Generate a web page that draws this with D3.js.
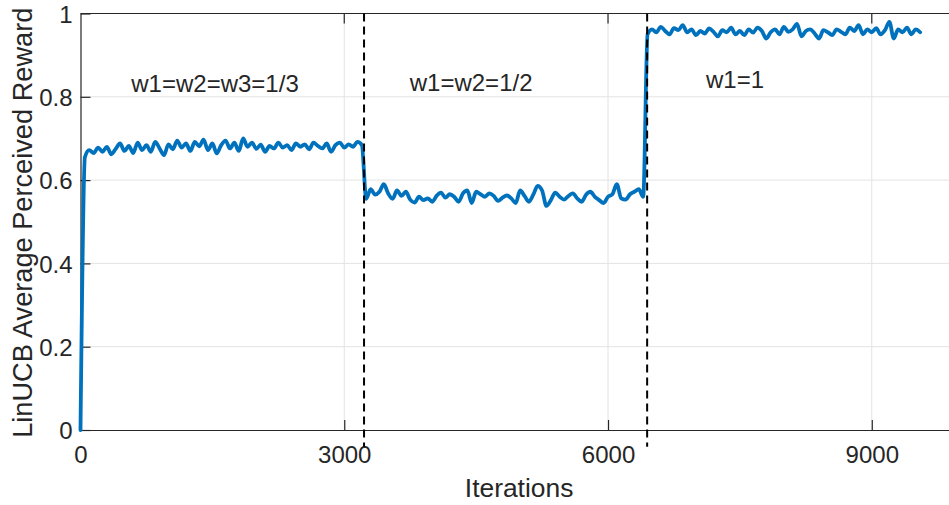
<!DOCTYPE html>
<html>
<head>
<meta charset="utf-8">
<script src="https://cdn.jsdelivr.net/npm/d3@7"></script>
<style>
  html, body { margin: 0; padding: 0; background: #fff; }
  svg { display: block; }
  text { font-family: "Liberation Sans", Arial, sans-serif; fill: #262626; }
</style>
</head>
<body>
<svg id="chart" width="949" height="505"></svg>
<script>
// ---------------- data ----------------
const iterationStep = 50;            // spacing between recorded iterations
const xTicks = [0, 3000, 6000, 9000];
const yTicks = [0, 0.2, 0.4, 0.6, 0.8, 1];
const yTickLabels = ["0", "0.2", "0.4", "0.6", "0.8", "1"];
const changePoints = [3225, 6445];
const phaseLabels = ["w1=w2=w3=1/3", "w1=w2=1/2", "w1=1"];
const xLabel = "Iterations";
const yLabel = "LinUCB Average Perceived Reward";

const rewardStart = [0];
const rewardPhase1 = [
  0.655, 0.672, 0.665, 0.678, 0.668, 0.680, 0.662, 0.675, 0.688, 0.670,
  0.682, 0.665, 0.690, 0.672, 0.684, 0.668, 0.692, 0.676, 0.660, 0.686,
  0.674, 0.695, 0.678, 0.688, 0.670, 0.692, 0.681, 0.697, 0.672, 0.688,
  0.664, 0.684, 0.695, 0.676, 0.690, 0.670, 0.700, 0.680, 0.690, 0.675,
  0.685, 0.668, 0.682, 0.676, 0.690, 0.678, 0.684, 0.672, 0.688, 0.680,
  0.686, 0.674, 0.690, 0.682, 0.676, 0.688, 0.668, 0.684, 0.690, 0.678,
  0.686, 0.680, 0.692, 0.684
];
const rewardPhase2 = [
  0.555, 0.578, 0.565, 0.572, 0.590, 0.568, 0.555, 0.575, 0.562, 0.572,
  0.553, 0.546, 0.560, 0.552, 0.556, 0.548, 0.562, 0.570, 0.558, 0.566,
  0.560, 0.548, 0.568, 0.575, 0.545, 0.572, 0.566, 0.560, 0.568, 0.562,
  0.550, 0.558, 0.563, 0.556, 0.545, 0.575, 0.562, 0.548, 0.565, 0.586,
  0.575, 0.538, 0.552, 0.570, 0.560, 0.553, 0.562, 0.568, 0.556, 0.548,
  0.565, 0.572, 0.560, 0.552, 0.545, 0.560, 0.566, 0.590, 0.556, 0.553,
  0.566, 0.572, 0.578, 0.560
];
const rewardPhase3 = [
  0.950, 0.962, 0.955, 0.968, 0.958, 0.950, 0.965, 0.960, 0.972, 0.955,
  0.962, 0.948, 0.958, 0.952, 0.964, 0.956, 0.945, 0.960, 0.955, 0.966,
  0.950, 0.958, 0.948, 0.962, 0.954, 0.966, 0.958, 0.940, 0.955, 0.962,
  0.950, 0.968, 0.956, 0.962, 0.975, 0.945, 0.958, 0.962, 0.952, 0.940,
  0.960, 0.955, 0.948, 0.962, 0.956, 0.950, 0.966, 0.958, 0.972, 0.950,
  0.962, 0.955, 0.965, 0.950, 0.960, 0.980, 0.940, 0.962, 0.955, 0.966,
  0.950, 0.962, 0.955
];

const rewards = rewardStart.concat(rewardPhase1, rewardPhase2, rewardPhase3);
const series = rewards.map((v, i) => ({ it: i * iterationStep, v }));

// ---------------- layout ----------------
const svg = d3.select("#chart");
const plotLeft = 80.5, plotTop = 13.5, plotBottom = 430;
const x = d3.scaleLinear().domain([0, 10000]).range([plotLeft, plotLeft + 10000 * 0.08792]);
const y = d3.scaleLinear().domain([0, 1]).range([plotBottom, plotTop]);
const axisColor = "#262626";

// grid
const grid = svg.append("g");
grid.selectAll("line.gx").data(xTicks.slice(1)).enter().append("line")
  .attr("x1", d => x(d)).attr("x2", d => x(d))
  .attr("y1", y(0)).attr("y2", y(1))
  .attr("stroke", "#e3e3e3").attr("stroke-width", 1);
grid.selectAll("line.gy").data(yTicks.slice(1, -1)).enter().append("line")
  .attr("x1", x(0)).attr("x2", x(10000))
  .attr("y1", d => y(d)).attr("y2", d => y(d))
  .attr("stroke", "#e3e3e3").attr("stroke-width", 1);

// axes
const xAxis = d3.axisBottom(x).tickValues(xTicks).tickSizeInner(-10).tickSizeOuter(0).tickPadding(16)
  .tickFormat(d3.format("d"));
const gx = svg.append("g").attr("transform", `translate(0,${plotBottom})`).call(xAxis);
const yAxis = d3.axisLeft(y).tickValues(yTicks).tickSizeInner(-10).tickSizeOuter(0).tickPadding(8)
  .tickFormat((d, i) => yTickLabels[i]);
const gy = svg.append("g").attr("transform", `translate(${plotLeft},0)`).call(yAxis);
[gx, gy].forEach(g => {
  g.selectAll("path.domain").attr("stroke", axisColor).attr("stroke-width", 1.2);
  g.selectAll(".tick line").attr("stroke", axisColor).attr("stroke-width", 1.2);
  g.selectAll(".tick text").attr("fill", axisColor)
    .style("font-family", '"Liberation Sans", Arial, sans-serif').style("font-size", "24px");
});
gx.selectAll(".tick text").attr("dy", "0.71em");
gy.selectAll(".tick text").attr("dy", "0.36em");
// top border
svg.append("line").attr("x1", x(0)).attr("x2", x(10000))
  .attr("y1", y(1)).attr("y2", y(1)).attr("stroke", axisColor).attr("stroke-width", 1.2);
// top ticks
svg.selectAll("line.tt").data(xTicks.slice(1)).enter().append("line")
  .attr("x1", d => x(d)).attr("x2", d => x(d)).attr("y1", y(1)).attr("y2", y(1) + 10)
  .attr("stroke", axisColor).attr("stroke-width", 1.2);

// data line
const line = d3.line().x(d => x(d.it)).y(d => y(d.v)).curve(d3.curveMonotoneX);
svg.append("path").datum(series)
  .attr("d", line).attr("fill", "none")
  .attr("stroke", "#0072BD").attr("stroke-width", 3.8)
  .attr("stroke-linejoin", "round").attr("stroke-linecap", "round");

// change-point dashed lines
svg.selectAll("line.cp").data(changePoints).enter().append("line")
  .attr("x1", d => x(d)).attr("x2", d => x(d))
  .attr("y1", y(1)).attr("y2", y(-0.04))
  .attr("stroke", "#000").attr("stroke-width", 2).attr("stroke-dasharray", "8,5");

// phase annotations
const annPos = [[1530, 0.811], [4443, 0.813], [7445, 0.82]];
svg.selectAll("text.ann").data(phaseLabels).enter().append("text")
  .attr("x", (d, i) => x(annPos[i][0])).attr("y", (d, i) => y(annPos[i][1]))
  .attr("text-anchor", "middle").style("font-size", "24px").attr("fill", "#000")
  .text(d => d);

// axis labels
svg.append("text").attr("x", x(5000) - 1).attr("y", 497)
  .attr("text-anchor", "middle").style("font-size", "26.4px").text(xLabel);
svg.append("text").attr("transform", `translate(32,${(plotTop + plotBottom) / 2 + 1}) rotate(-90)`)
  .attr("text-anchor", "middle").style("font-size", "27.2px").text(yLabel);
</script>
</body>
</html>
